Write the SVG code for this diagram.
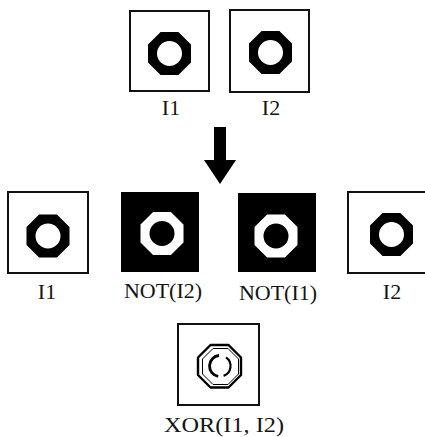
<svg xmlns="http://www.w3.org/2000/svg" xmlns:xlink="http://www.w3.org/1999/xlink" width="425" height="437" viewBox="0 0 425 437">
<style>
.frame{fill:#fff;stroke:#111;stroke-width:2}
.inv{fill:#000;stroke:none}
.lbl{font-family:"Liberation Serif","Times New Roman",serif;font-size:22px;fill:#141414;text-anchor:middle}
.ring{fill-rule:evenodd}
.ol{fill:none;stroke:#000;stroke-linejoin:round}
</style>
<defs>
<path id="ring" d="M-8.9,-21.5 H8.9 L21.5,-8.9 V8.9 L8.9,21.5 H-8.9 L-21.5,8.9 V-8.9 Z M0,-12.5 A12.5,12.5 0 1,0 0,12.5 A12.5,12.5 0 1,0 0,-12.5 Z"/>
</defs>
<rect width="425" height="437" fill="#fff"/>

<g id="top-i1">
<rect class="frame" x="130" y="11" width="79" height="80"/>
<use xlink:href="#ring" class="ring" fill="#000" transform="translate(169.5,53.5)"/>
<text class="lbl" x="171" y="115">I1</text>
</g>
<g id="top-i2">
<rect class="frame" x="230" y="10" width="79" height="82"/>
<use xlink:href="#ring" class="ring" fill="#000" transform="translate(270.5,52.5)"/>
<text class="lbl" x="271" y="115">I2</text>
</g>

<g id="connectors">
<path d="M214,127 H226 V160 H236 L220,184 L204,160 H214 Z" fill="#000"/>
</g>

<g id="row-i1">
<rect class="frame" x="8" y="192" width="80" height="81"/>
<use xlink:href="#ring" class="ring" fill="#000" transform="translate(48,236)"/>
<text class="lbl" x="47" y="299">I1</text>
</g>
<g id="not-i2">
<rect class="inv" x="121" y="192" width="78" height="80"/>
<use xlink:href="#ring" class="ring" fill="#fff" transform="translate(162,233.5)"/>
<text class="lbl" x="163" y="298">NOT(I2)</text>
</g>
<g id="not-i1">
<rect class="inv" x="238" y="193" width="78" height="79"/>
<use xlink:href="#ring" class="ring" fill="#fff" transform="translate(276,236)"/>
<text class="lbl" x="278" y="300">NOT(I1)</text>
</g>
<g id="row-i2">
<rect class="frame" x="348" y="192" width="90" height="81"/>
<use xlink:href="#ring" class="ring" fill="#000" transform="translate(391.5,234.5)"/>
<text class="lbl" x="392" y="299">I2</text>
</g>

<g id="xor">
<rect class="frame" x="178" y="324" width="81" height="81"/>
<path class="ol" stroke-width="2.4" d="M210.5,345 H228.5 L241,357.5 V375 L228.5,387.5 H210.5 L198,375 V357.5 Z"/>
<path class="ol" stroke-width="1" d="M213,348.5 H228 L238.5,359 V374 L228,384.5 H213 L202.5,374 V359 Z"/>
<path class="ol" stroke-width="2.8" d="M219.1,355.5 A10.5,10.5 0 0,0 218.2,376.3"/>
<path class="ol" stroke-width="2.2" d="M226,357.4 A10.5,10.5 0 0,1 223.6,375.9"/>
<text class="lbl" x="224" y="432" textLength="120" lengthAdjust="spacingAndGlyphs">XOR(I1, I2)</text>
</g>
</svg>
